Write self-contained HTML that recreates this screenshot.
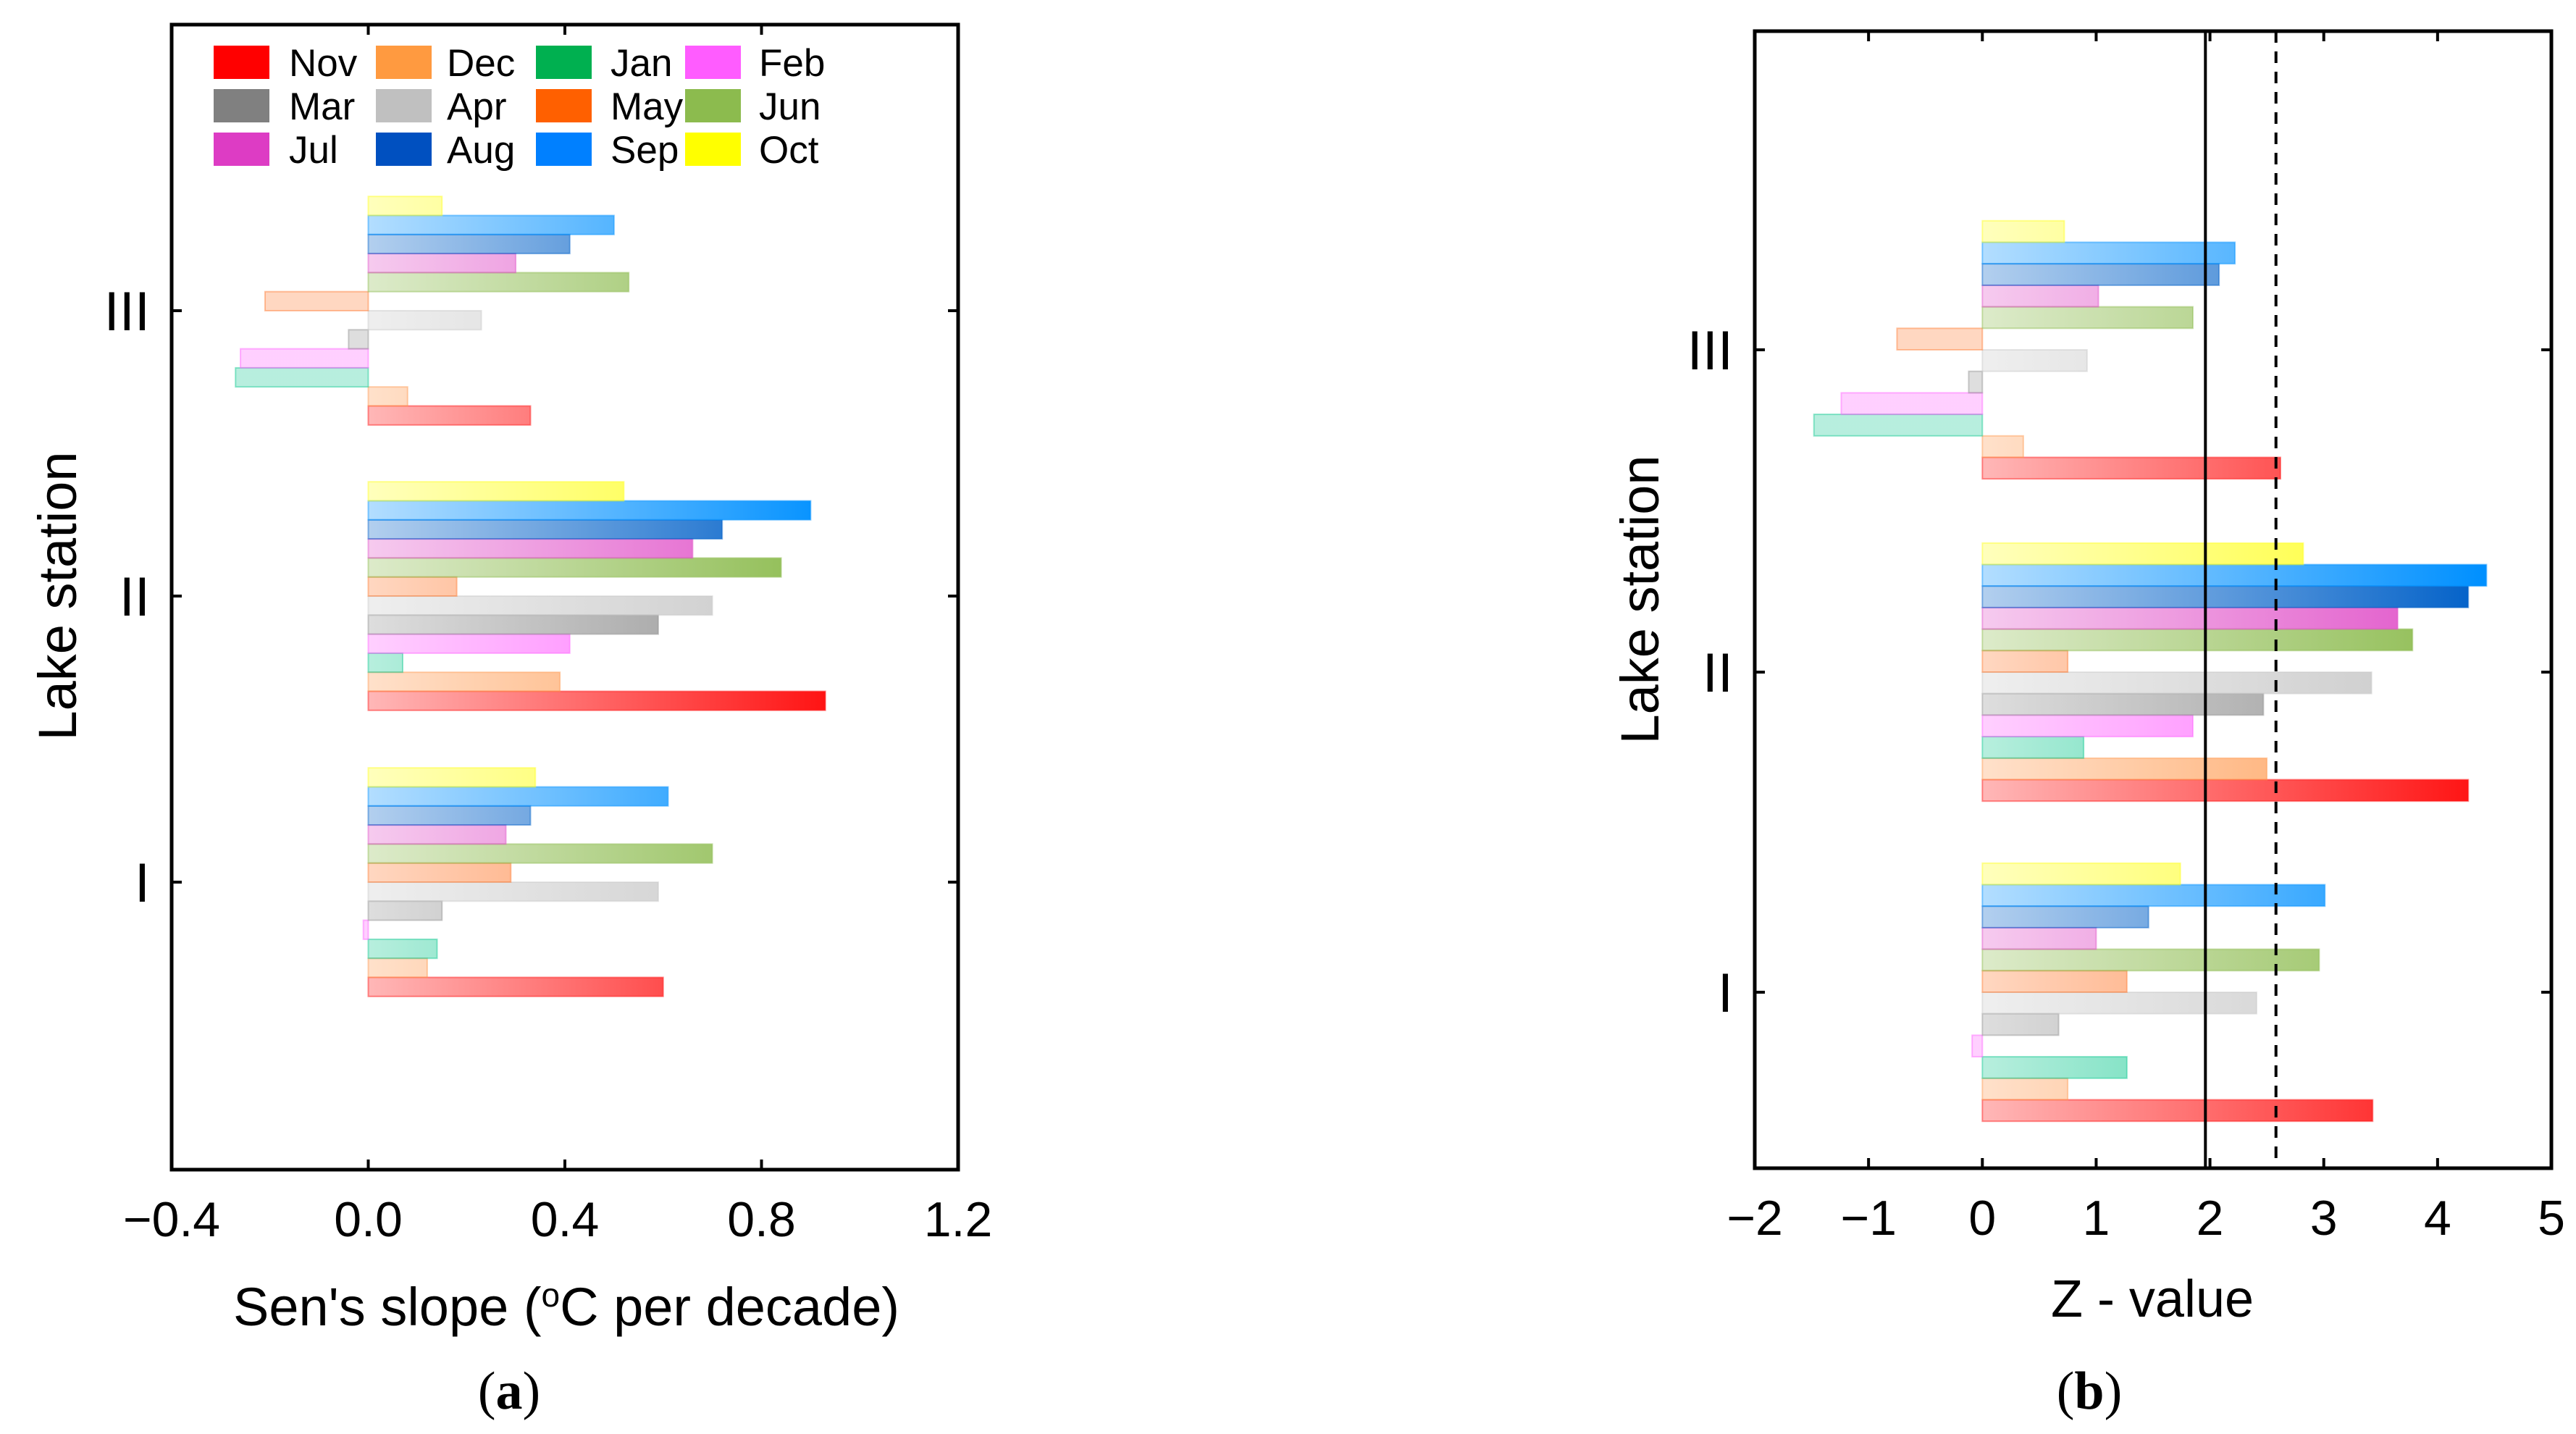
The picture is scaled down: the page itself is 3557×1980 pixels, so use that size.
<!DOCTYPE html>
<html><head><meta charset="utf-8">
<style>
html,body{margin:0;padding:0;background:#fff;}
svg{display:block;font-family:"Liberation Sans",Arial,sans-serif;}
</style></head>
<body>
<svg id="fig" width="3557" height="1980" viewBox="0 0 3557 1980" xmlns="http://www.w3.org/2000/svg"></svg>
<script>
const months = ["Nov","Dec","Jan","Feb","Mar","Apr","May","Jun","Jul","Aug","Sep","Oct"];
const stations = ["I","II","III"];
const colors = ["#ff1010","#ff9a50","#10c890","#ff60ff","#909090","#c8c8c8","#ff7a30","#8cbb4e","#e050c8","#0060c8","#0090ff","#ffff20"];
const legendColors = ["#ff0000","#ff9a40","#00b050","#ff5cff","#808080","#c0c0c0","#ff6000","#8cbb4e","#dd3cc4","#0050c0","#0080ff","#ffff00"];
// Sen's slope values per station (order: months)
const slopeI   = [0.60,0.12,0.14,-0.01,0.15,0.59,0.29,0.70,0.28,0.33,0.61,0.34];
const slopeII  = [0.93,0.39,0.07,0.41,0.59,0.70,0.18,0.84,0.66,0.72,0.90,0.52];
const slopeIII = [0.33,0.08,-0.27,-0.26,-0.04,0.23,-0.21,0.53,0.30,0.41,0.50,0.15];
// Z values per station
const zI   = [3.43,0.75,1.27,-0.09,0.67,2.41,1.27,2.96,1.00,1.46,3.01,1.74];
const zII  = [4.27,2.50,0.89,1.85,2.47,3.42,0.75,3.78,3.65,4.27,4.43,2.82];
const zIII = [2.62,0.36,-1.48,-1.24,-0.12,0.92,-0.75,1.85,1.02,2.08,2.22,0.72];
const slopeTicks = ["\u22120.4","0.0","0.4","0.8","1.2"];
const slopeTickVals = [-0.4,0,0.4,0.8,1.2];
const zTickVals = [-2,-1,0,1,2,3,4,5];
const zTickLabels = ["\u22122","\u22121","0","1","2","3","4","5"];

const NS="http://www.w3.org/2000/svg";
const svg=document.getElementById('fig');
function el(tag,attrs,parent){const e=document.createElementNS(NS,tag);for(const k in attrs)e.setAttribute(k,attrs[k]);(parent||svg).appendChild(e);return e;}
const defs=el('defs',{});

function drawPanel(p){
  const g=el('g',{});
  
  
  const X=v=>p.L+(v-p.xmin)/(p.xmax-p.xmin)*(p.R-p.L);
  const Y=i=>p.catY[i];
  colors.forEach((c,k)=>{
    const gr=el('linearGradient',{id:p.id+'g'+k,gradientUnits:'userSpaceOnUse',x1:X(0),y1:0,x2:X(p.full),y2:0},defs);
    el('stop',{offset:'0','stop-color':c,'stop-opacity':'0.3'},gr);
    el('stop',{offset:'1','stop-color':c,'stop-opacity':'1'},gr);
  });
  p.data.forEach((vals,si)=>{
    const cy=Y(si);
    vals.forEach((v,mi)=>{
      const top=cy+6*p.bh-(mi+1)*p.bh;
      const x0=Math.min(X(0),X(v)), w=Math.abs(X(v)-X(0));
      const r=el('rect',{x:x0,y:top,width:w,height:p.bh,fill:'url(#'+p.id+'g'+mi+')',stroke:colors[mi],'stroke-opacity':'0.45','stroke-width':2},g);
      
      
    });
  });
  (p.vlines||[]).forEach(vl=>{
    const l=el('line',{x1:X(vl.v),x2:X(vl.v),y1:p.T,y2:p.B,stroke:'#000','stroke-width':4,'stroke-dasharray':vl.dash||'none'},g);
    
    
  });
  const f=el('rect',{x:p.L,y:p.T,width:p.R-p.L,height:p.B-p.T,fill:'none',stroke:'#000','stroke-width':5},g);
  
  
  p.ticks.forEach((t,i)=>{
    const x=X(t);
    el('line',{x1:x,x2:x,y1:p.B,y2:p.B-14,stroke:'#000','stroke-width':4},g);
    el('line',{x1:x,x2:x,y1:p.T,y2:p.T+14,stroke:'#000','stroke-width':4},g);
    const tx=el('text',{x:x,y:p.B+92,'font-size':68,'text-anchor':'middle',fill:'#000'},g);
    tx.textContent=p.tickLabels[i];
    
    
  });
  stations.forEach((s,i)=>{
    const y=Y(i);
    el('line',{x1:p.L,x2:p.L+14,y1:y,y2:y,stroke:'#000','stroke-width':4},g);
    el('line',{x1:p.R,x2:p.R-14,y1:y,y2:y,stroke:'#000','stroke-width':4},g);
    const tx=el('text',{x:p.L-30,y:y+27,'font-size':76,'text-anchor':'end',fill:'#000'},g);
    tx.textContent=s;
    
    
  });
  const xt=el('text',{x:p.xtX,y:p.xtY,'font-size':p.xtSize,'text-anchor':'middle',fill:'#000'},g);
  xt.innerHTML=p.xtitle;
  
  
  const yt=el('text',{x:0,y:0,'font-size':74,'text-anchor':'middle',fill:'#000',transform:'translate('+p.ytX+','+p.ytY+') rotate(-90)'},g);
  yt.textContent='Lake station';
  
  
  const pl=el('text',{x:p.plX,y:1945,'font-size':74,'text-anchor':'middle',fill:'#000','font-family':'Liberation Serif, serif'},g);
  pl.innerHTML='(<tspan font-weight="bold">'+p.id+'</tspan>)';
  
  
}

drawPanel({id:'a',L:237,R:1323,T:34,B:1615,xmin:-0.4,xmax:1.2,full:0.95,
  catY:[1218,823,429],bh:26.3,data:[slopeI,slopeII,slopeIII],
  ticks:slopeTickVals,tickLabels:slopeTicks,xtSize:74,
  xtitle:"Sen's slope (<tspan baseline-shift='super' font-size='46'>o</tspan>C per decade)",xtX:782,xtY:1830,ytX:105,ytY:823,plX:703});
drawPanel({id:'b',L:2423,R:3523,T:43,B:1613,xmin:-2,xmax:5,full:4.4,
  catY:[1370,928,483],bh:29.7,data:[zI,zII,zIII],
  ticks:zTickVals,tickLabels:zTickLabels,xtSize:72,
  vlines:[{v:1.96,name:'significance-95-line'},{v:2.58,dash:'16,12',name:'significance-99-line'}],
  xtitle:"Z - value",xtX:2972,xtY:1818,ytX:2290,ytY:828,plX:2885});

const lg=el('g',{});


const colX=[[295,399],[519,617],[740,843],[946,1048]];
const rowY=[86,146,206];
months.forEach((m,i)=>{
  const r=Math.floor(i/4),c=i%4;
  const sw=el('rect',{x:colX[c][0],y:rowY[r]-23,width:77,height:46,fill:legendColors[i]},lg);
  
  
  const t=el('text',{x:colX[c][1],y:rowY[r]+19,'font-size':53,fill:'#000'},lg);
  t.textContent=m;
  
  
});
</script>
</body></html>
